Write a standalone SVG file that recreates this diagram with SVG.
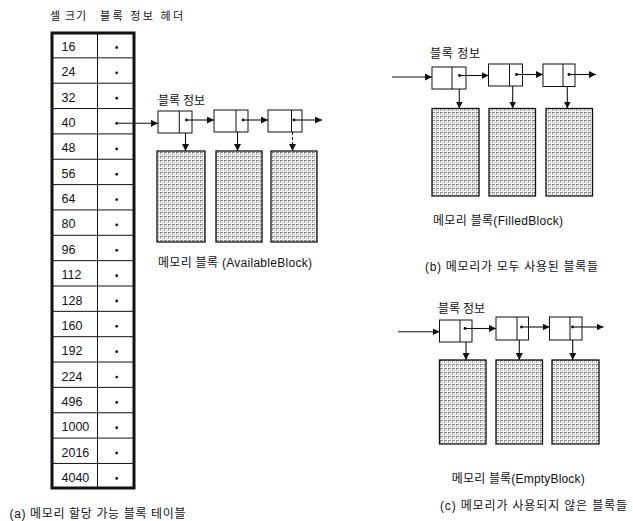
<svg xmlns="http://www.w3.org/2000/svg" width="633" height="521" viewBox="0 0 633 521">
<style>
text{font-family:"Liberation Sans","Noto Sans CJK KR",sans-serif;font-size:12px;fill:#111}
.num{font-size:12.5px}
.hdr{font-size:11px}
.box{fill:#fff;stroke:#111;stroke-width:1}
.blk{fill:url(#stip);stroke:#111;stroke-width:1.3}
.ln{stroke:#111;stroke-width:1;fill:none}
.con{stroke:#111;stroke-width:1.1;fill:none;marker-end:url(#ah)}
.dot{fill:#111}
</style>
<defs>
<marker id="ah" viewBox="0 0 10 10" refX="10" refY="5" markerWidth="7" markerHeight="7" markerUnits="userSpaceOnUse" orient="auto">
<path d="M0,0 L10,5 L0,10 z" fill="#111"/>
</marker>
<pattern id="stip" width="4" height="4" patternUnits="userSpaceOnUse">
<rect width="4" height="4" fill="#f6f6f6"/>
<rect x="0" y="0" width="3" height="1" fill="#8a8a8a"/>
<rect x="0" y="1" width="1" height="2" fill="#aaa"/>
<rect x="2" y="2" width="1" height="1" fill="#bbb"/>
</pattern>
</defs>

<g id="table-header">
<text class="hdr" x="50" y="20" textLength="36" lengthAdjust="spacing">셀 크기</text>
<text class="hdr" x="100" y="20" textLength="83" lengthAdjust="spacing">블록 정보 헤더</text>
</g>

<g id="table">
<rect x="52" y="33" width="82" height="455" fill="#fff" stroke="#111" stroke-width="3"/>
<line class="ln" x1="97.5" y1="33" x2="97.5" y2="488"/>
<g class="ln" stroke="#111">
<line x1="52" y1="57.85" x2="134" y2="57.85"/>
<line x1="52" y1="83.2" x2="134" y2="83.2"/>
<line x1="52" y1="108.55" x2="134" y2="108.55"/>
<line x1="52" y1="133.9" x2="134" y2="133.9"/>
<line x1="52" y1="159.25" x2="134" y2="159.25"/>
<line x1="52" y1="184.6" x2="134" y2="184.6"/>
<line x1="52" y1="209.95" x2="134" y2="209.95"/>
<line x1="52" y1="235.3" x2="134" y2="235.3"/>
<line x1="52" y1="260.65" x2="134" y2="260.65"/>
<line x1="52" y1="286" x2="134" y2="286"/>
<line x1="52" y1="311.35" x2="134" y2="311.35"/>
<line x1="52" y1="336.7" x2="134" y2="336.7"/>
<line x1="52" y1="362.05" x2="134" y2="362.05"/>
<line x1="52" y1="387.4" x2="134" y2="387.4"/>
<line x1="52" y1="412.75" x2="134" y2="412.75"/>
<line x1="52" y1="438.1" x2="134" y2="438.1"/>
<line x1="52" y1="463.45" x2="134" y2="463.45"/>
</g>
<g>
<text class="num" x="61.5" y="51">16</text>
<text class="num" x="61.5" y="76.35">24</text>
<text class="num" x="61.5" y="101.7">32</text>
<text class="num" x="61.5" y="127.05">40</text>
<text class="num" x="61.5" y="152.4">48</text>
<text class="num" x="61.5" y="177.75">56</text>
<text class="num" x="61.5" y="203.1">64</text>
<text class="num" x="61.5" y="228.45">80</text>
<text class="num" x="61.5" y="253.8">96</text>
<text class="num" x="61.5" y="279.15">112</text>
<text class="num" x="61.5" y="304.5">128</text>
<text class="num" x="61.5" y="329.85">160</text>
<text class="num" x="61.5" y="355.2">192</text>
<text class="num" x="61.5" y="380.55">224</text>
<text class="num" x="61.5" y="405.9">496</text>
<text class="num" x="61.5" y="431.25">1000</text>
<text class="num" x="61.5" y="456.6">2016</text>
<text class="num" x="61.5" y="481.95">4040</text>
</g>
<g class="dot">
<circle cx="116.7" cy="47.5" r="1.4"/>
<circle cx="116.7" cy="72.85" r="1.4"/>
<circle cx="116.7" cy="98.2" r="1.4"/>
<circle cx="116.7" cy="123.3" r="1.4"/>
<circle cx="116.7" cy="148.9" r="1.4"/>
<circle cx="116.7" cy="174.25" r="1.4"/>
<circle cx="116.7" cy="199.6" r="1.4"/>
<circle cx="116.7" cy="224.95" r="1.4"/>
<circle cx="116.7" cy="250.3" r="1.4"/>
<circle cx="116.7" cy="275.65" r="1.4"/>
<circle cx="116.7" cy="301" r="1.4"/>
<circle cx="116.7" cy="326.35" r="1.4"/>
<circle cx="116.7" cy="351.7" r="1.4"/>
<circle cx="116.7" cy="377.05" r="1.4"/>
<circle cx="116.7" cy="402.4" r="1.4"/>
<circle cx="116.7" cy="427.75" r="1.4"/>
<circle cx="116.7" cy="453.1" r="1.4"/>
<circle cx="116.7" cy="478.45" r="1.4"/>
</g>
</g>

<!-- (a) available blocks -->
<g id="a-label"><text x="158" y="104.5" textLength="47" lengthAdjust="spacing">블록 정보</text></g>
<g id="a-info1"><rect class="box" x="158" y="111" width="34" height="22"/><line class="ln" x1="179.3" y1="111" x2="179.3" y2="133"/><circle class="dot" cx="186.5" cy="120" r="1.4"/></g>
<g id="a-info2"><rect class="box" x="214" y="110" width="34" height="22"/><line class="ln" x1="236" y1="110" x2="236" y2="132"/><circle class="dot" cx="243" cy="120" r="1.4"/></g>
<g id="a-info3"><rect class="box" x="268" y="110" width="34" height="22"/><line class="ln" x1="291.5" y1="110" x2="291.5" y2="132"/><circle class="dot" cx="294" cy="120" r="1.4"/></g>
<g id="a-block1"><rect class="blk" x="157" y="151" width="48" height="91"/></g>
<g id="a-block2"><rect class="blk" x="216" y="151" width="46" height="91"/></g>
<g id="a-block3"><rect class="blk" x="271" y="151" width="46" height="91"/></g>
<g id="a-caption"><text x="158" y="267" textLength="154" lengthAdjust="spacing">메모리 블록 (AvailableBlock)</text></g>
<g id="a-title"><text x="9.5" y="517.5" textLength="176" lengthAdjust="spacing">(a) 메모리 할당 가능 블록 테이블</text></g>

<!-- (b) filled blocks -->
<g id="b-label"><text x="430" y="57.8" textLength="50" lengthAdjust="spacing">블록 정보</text></g>
<g id="b-info1"><rect class="box" x="432" y="67" width="34" height="22"/><line class="ln" x1="452" y1="67" x2="452" y2="89"/><circle class="dot" cx="459.5" cy="75.5" r="1.4"/></g>
<g id="b-info2"><rect class="box" x="488.5" y="64" width="34" height="22"/><line class="ln" x1="509.5" y1="64" x2="509.5" y2="86"/><circle class="dot" cx="516.5" cy="74.5" r="1.4"/></g>
<g id="b-info3"><rect class="box" x="543" y="64" width="32" height="22.5"/><line class="ln" x1="563" y1="64" x2="563" y2="86.5"/><circle class="dot" cx="569" cy="74.5" r="1.4"/></g>
<g id="b-block1"><rect class="blk" x="432" y="108.5" width="47" height="87.5"/></g>
<g id="b-block2"><rect class="blk" x="489" y="108.5" width="46.5" height="87.5"/></g>
<g id="b-block3"><rect class="blk" x="546" y="108.5" width="46.5" height="87.5"/></g>
<g id="b-caption"><text x="433" y="224.5" textLength="130" lengthAdjust="spacing">메모리 블록(FilledBlock)</text></g>
<g id="b-title"><text x="425" y="270.5" textLength="173" lengthAdjust="spacing">(b) 메모리가 모두 사용된 블록들</text></g>

<!-- (c) empty blocks -->
<g id="c-label"><text x="438" y="312.8" textLength="47" lengthAdjust="spacing">블록 정보</text></g>
<g id="c-info1"><rect class="box" x="439.5" y="320" width="32.5" height="22"/><line class="ln" x1="460" y1="320" x2="460" y2="342"/><circle class="dot" cx="465" cy="328.5" r="1.4"/></g>
<g id="c-info2"><rect class="box" x="496" y="317" width="32.5" height="23"/><line class="ln" x1="517" y1="317" x2="517" y2="340"/><circle class="dot" cx="521.5" cy="327" r="1.4"/></g>
<g id="c-info3"><rect class="box" x="549.5" y="317" width="32.5" height="23"/><line class="ln" x1="570" y1="317" x2="570" y2="340"/><circle class="dot" cx="572.5" cy="327" r="1.4"/></g>
<g id="c-block1"><rect class="blk" x="439.5" y="360" width="46.5" height="84"/></g>
<g id="c-block2"><rect class="blk" x="496" y="360" width="46.5" height="84"/></g>
<g id="c-block3"><rect class="blk" x="552" y="360" width="47" height="84"/></g>
<g id="c-caption"><text x="451.7" y="482.8" textLength="133" lengthAdjust="spacing">메모리 블록(EmptyBlock)</text></g>
<g id="c-title"><text x="440" y="509.5" textLength="187" lengthAdjust="spacing">(c) 메모리가 사용되지 않은 블록들</text></g>

<g id="connectors">
<line class="con" x1="116.7" y1="123.3" x2="158" y2="123.3"/>
<line class="con" x1="186.5" y1="120" x2="214" y2="120"/>
<line class="con" x1="243" y1="120" x2="268" y2="120"/>
<line class="con" x1="294" y1="120" x2="322" y2="120"/>
<line class="con" x1="185.5" y1="133" x2="185.5" y2="151"/>
<line class="con" x1="237.5" y1="132" x2="237.5" y2="151"/>
<line class="con" x1="292.5" y1="132" x2="292.5" y2="151" stroke-dasharray="3,2"/>

<line class="con" x1="392" y1="77" x2="432" y2="77"/>
<line class="con" x1="459.5" y1="75.5" x2="488.5" y2="75.5"/>
<line class="con" x1="516.5" y1="74.5" x2="543" y2="74.5"/>
<line class="con" x1="569" y1="74.5" x2="596" y2="74.5"/>
<line class="con" x1="459.3" y1="89" x2="459.3" y2="108.5"/>
<line class="con" x1="512.7" y1="86" x2="512.7" y2="108.5"/>
<line class="con" x1="567.3" y1="86.5" x2="567.3" y2="108.5"/>

<line class="con" x1="398" y1="331.7" x2="439.5" y2="331.7"/>
<line class="con" x1="465" y1="328.5" x2="496" y2="328.5"/>
<line class="con" x1="521.5" y1="327" x2="549.5" y2="327"/>
<line class="con" x1="572.5" y1="327" x2="603.5" y2="327"/>
<line class="con" x1="466" y1="342" x2="466" y2="360"/>
<line class="con" x1="519.3" y1="340" x2="519.3" y2="360"/>
<line class="con" x1="572.7" y1="340" x2="572.7" y2="360"/>
</g>
</svg>
